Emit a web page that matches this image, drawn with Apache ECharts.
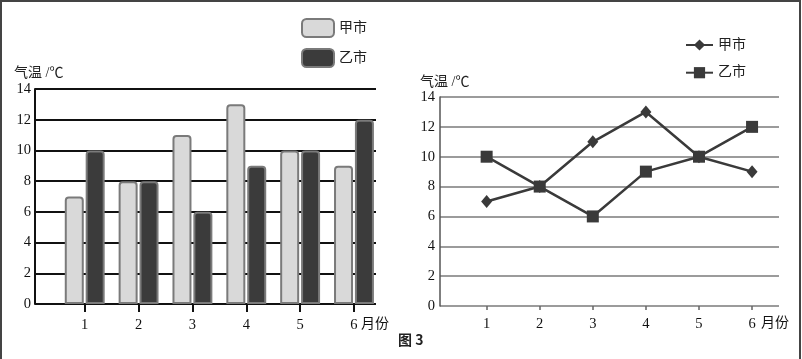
<!DOCTYPE html>
<html>
<head>
<meta charset="utf-8">
<script src="https://cdn.jsdelivr.net/npm/echarts@6/dist/echarts.min.js"></script>
<style>
html,body{margin:0;padding:0;background:#fff;}
#c{width:802px;height:359px;}
</style>
</head>
<body>
<div id="c"></div>
<script>
// ---- data ----
const months = ['1', '2', '3', '4', '5', '6'];
const jiaTemp = [7, 8, 11, 13, 10, 9];   // 甲市
const yiTemp = [10, 8, 6, 9, 10, 12];    // 乙市
const yMin = 0, yMax = 14, yStep = 2;
const yTitle = '气温 /℃';
const xUnit = '月份';
const figCaption = '图 3';

const serif = '"Liberation Serif", "Noto Sans CJK SC", serif';
const chart = echarts.init(document.getElementById('c'), null, {renderer: 'canvas'});

const labelStyle = {fontFamily: serif, fontSize: 14.5, color: '#111'};

chart.setOption({
  animation: false,
  backgroundColor: '#fff',
  grid: [
    {left: 35, top: 89, width: 341, height: 215},
    {left: 57.8, top: 89, width: 323.1, height: 215},
    {left: 440, top: 97, width: 339, height: 209},
    {left: 460.1, top: 97, width: 318.5, height: 209}
  ],
  xAxis: [
    {gridIndex: 0, type: 'category', data: months, show: false},
    {gridIndex: 1, type: 'category', data: months,
      axisLine: {show: false},
      axisTick: {show: true, alignWithLabel: true, length: 8, lineStyle: {color: '#111', width: 2}},
      axisLabel: Object.assign({margin: 14}, labelStyle)},
    {gridIndex: 2, type: 'category', data: months, show: false},
    {gridIndex: 3, type: 'category', data: months,
      axisLine: {show: false},
      axisTick: {show: true, alignWithLabel: true, length: 4, lineStyle: {color: '#666', width: 1.5}},
      axisLabel: Object.assign({margin: 11}, labelStyle)}
  ],
  yAxis: [
    {gridIndex: 0, type: 'value', min: yMin, max: yMax, interval: yStep,
      axisLine: {show: true, lineStyle: {color: '#111', width: 2}},
      axisTick: {show: false},
      splitLine: {show: true, lineStyle: {color: '#111', width: 2}},
      axisLabel: Object.assign({margin: 4}, labelStyle)},
    {gridIndex: 1, type: 'value', min: yMin, max: yMax, interval: yStep, show: false, splitLine: {show: false}},
    {gridIndex: 2, type: 'value', min: yMin, max: yMax, interval: yStep,
      axisLine: {show: true, lineStyle: {color: '#555', width: 1.5}},
      axisTick: {show: false},
      splitLine: {show: true, lineStyle: {color: '#7a7a7a', width: 1.5}},
      axisLabel: Object.assign({margin: 5}, labelStyle)},
    {gridIndex: 3, type: 'value', min: yMin, max: yMax, interval: yStep, show: false, splitLine: {show: false}}
  ],
  legend: [
    {left: 301, top: 18, padding: 0, orient: 'vertical', itemWidth: 32, itemHeight: 18, itemGap: 10,
      icon: 'roundRect', data: ['甲市', '乙市'],
      textStyle: {fontFamily: serif, fontSize: 14, color: '#222'}},
    {left: 685, top: 38, padding: 0, orient: 'vertical', itemWidth: 27, itemHeight: 14, itemGap: 13.7,
      itemTextGap: 3,
      data: ['甲市 折线', '乙市 折线'],
      formatter: function (n) { return n.split(' ')[0]; },
      textStyle: {fontFamily: serif, fontSize: 14, color: '#222'}}
  ],
  series: [
    {name: '甲市', type: 'bar', xAxisIndex: 1, yAxisIndex: 1, data: jiaTemp,
      barWidth: 19, barGap: '10%',
      itemStyle: {color: '#d9d9d9', borderColor: '#7a7a7a', borderWidth: 2, borderRadius: [3, 3, 0, 0]}},
    {name: '乙市', type: 'bar', xAxisIndex: 1, yAxisIndex: 1, data: yiTemp,
      barWidth: 19, barGap: '10%',
      itemStyle: {color: '#3b3b3b', borderColor: '#7a7a7a', borderWidth: 2, borderRadius: [3, 3, 0, 0]}},
    {name: '甲市 折线', type: 'line', xAxisIndex: 3, yAxisIndex: 3, data: jiaTemp,
      symbol: 'diamond', symbolSize: [11, 13],
      lineStyle: {color: '#3a3a3a', width: 2.5}, itemStyle: {color: '#3a3a3a'}},
    {name: '乙市 折线', type: 'line', xAxisIndex: 3, yAxisIndex: 3, data: yiTemp,
      symbol: 'rect', symbolSize: 12,
      lineStyle: {color: '#3a3a3a', width: 2.5}, itemStyle: {color: '#3a3a3a'}}
  ],
  graphic: [
    {type: 'text', left: 14, top: 66, style: {text: yTitle, font: '14px ' + serif, fill: '#222'}},
    {type: 'text', left: 420, top: 75, style: {text: yTitle, font: '14px ' + serif, fill: '#222'}},
    {type: 'text', left: 361, top: 317, style: {text: xUnit, font: '14px ' + serif, fill: '#111'}},
    {type: 'text', left: 761, top: 316, style: {text: xUnit, font: '14px ' + serif, fill: '#111'}},
    {type: 'text', left: 398, top: 333, style: {text: figCaption, font: 'bold 14px "Noto Sans CJK SC", "DejaVu Sans", sans-serif', fill: '#222'}},
    {type: 'polyline', silent: true, shape: {points: [[1, 359], [1, 1], [800, 1], [800, 359]]},
      style: {stroke: '#444', lineWidth: 2, fill: null}}
  ]
});
</script>
</body>
</html>
